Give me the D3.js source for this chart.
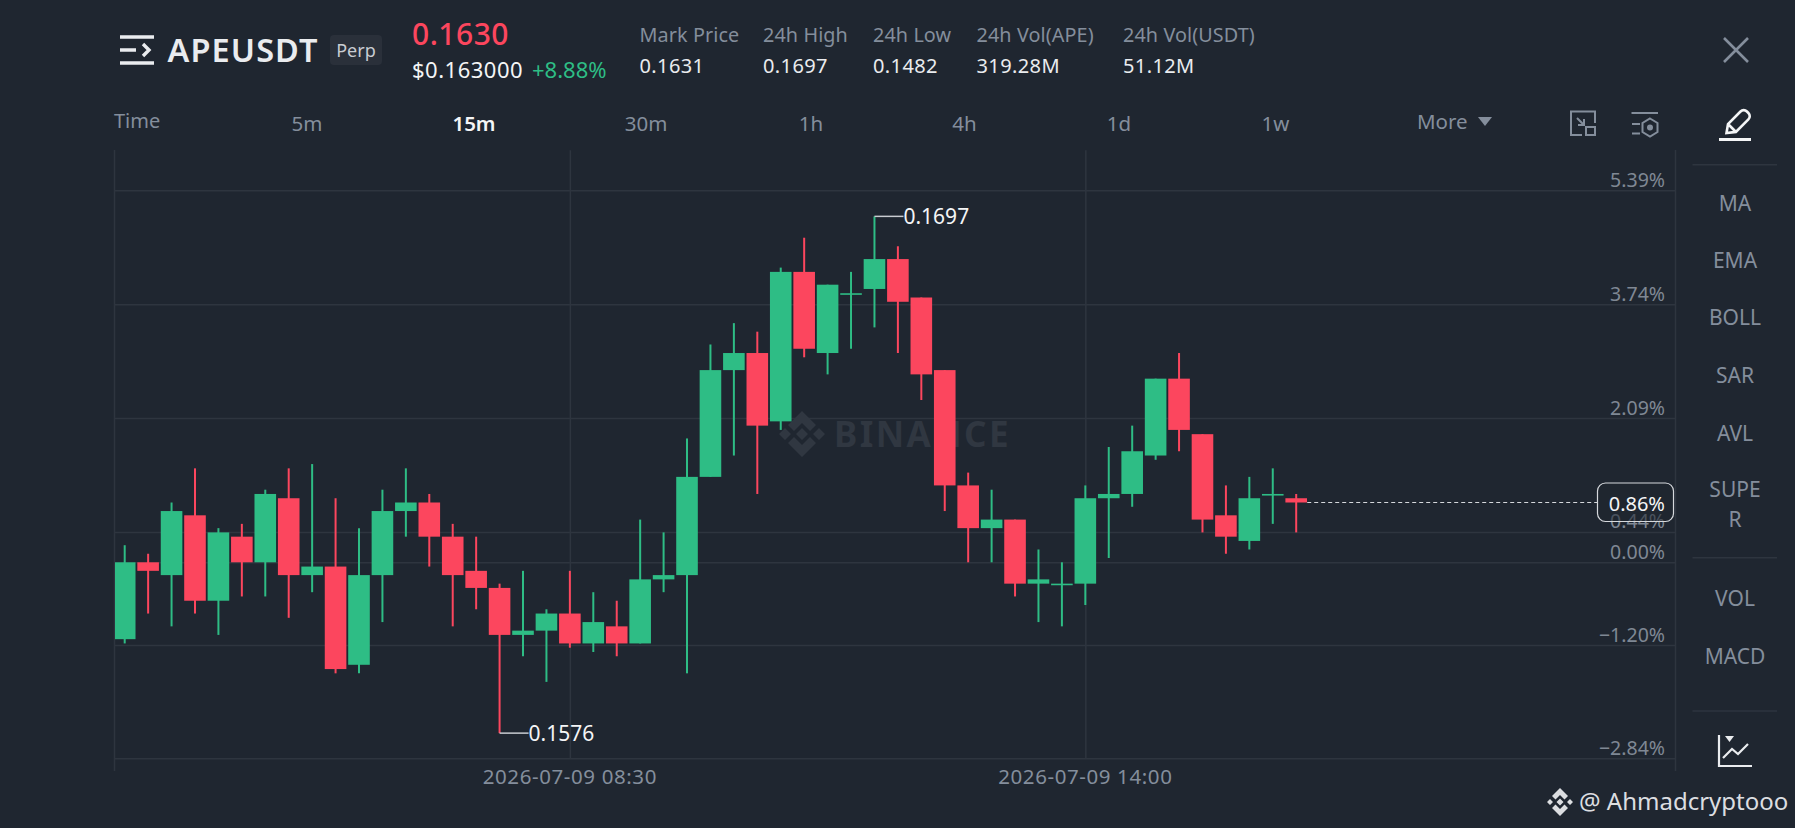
<!DOCTYPE html>
<html>

<head>
    <meta charset="utf-8">
    <style>
        html, body {
            margin: 0;
            padding: 0;
            background: #1f2630;
        }

        svg {
            display: block;
            font-family: 'Noto Sans', Arial, sans-serif;
        }

        .grid line, .grid path {
            stroke: #2e353f;
            stroke-width: 1.5;
        }

        .muted { fill: #848e9c; }
        .light { fill: #eaecef; }
    </style>
</head>

<body>
    <svg width="1795" height="828"></svg>
</body>

<script src="https://d3js.org/d3.v7.min.js"></script>

<script>
    //------------------------1. DATA------------------------//
    // 15m candles
    let opens = [.1598, .1616, .1613, .1627, .1607, .1622, .1616, .1631, .1613, .1615, .1592, .1613, .1628, .1630, .1622, .1614, .1610,
        .1599, .1600, .1604, .1597, .1601, .1597, .1612, .1613, .1636, .1661, .1665, .1649, .1684, .1665, .1679, .1680, .1687,
        .1678, .1661, .1634, .1624, .1626, .1611, .1611, .1611, .1631, .1632, .1641, .1659, .1646, .1627, .1621, .1632, .1631];
    let highs = [.1620, .1618, .1630, .1638, .1624, .1625, .1633, .1638, .1639, .1631, .1624, .1633, .1638, .1632, .1625, .1622, .1611,
        .1614, .1605, .1614, .1609, .1607, .1626, .1623, .1645, .1667, .1672, .1670, .1685, .1692, .1681, .1684, .1697, .1690,
        .1678, .1661, .1637, .1633, .1626, .1619, .1616, .1634, .1643, .1648, .1659, .1665, .1646, .1634, .1636, .1638, .1632];
    let lows = [.1597, .1604, .1601, .1604, .1599, .1608, .1608, .1603, .1609, .1590, .1590, .1602, .1622, .1615, .1601, .1605, .1576,
        .1594, .1588, .1596, .1595, .1594, .1597, .1609, .1590, .1636, .1641, .1632, .1647, .1664, .1660, .1666, .1671, .1665,
        .1654, .1628, .1616, .1616, .1608, .1602, .1601, .1606, .1617, .1629, .1640, .1642, .1623, .1618, .1619, .1625, .1623];
    let closes = [.1616, .1614, .1628, .1607, .1623, .1616, .1632, .1613, .1615, .1591, .1613, .1628, .1630, .1622, .1613, .1610, .1599,
        .1600, .1604, .1597, .1602, .1597, .1612, .1613, .1636, .1661, .1665, .1648, .1684, .1666, .1681, .1679, .1687, .1677,
        .1660, .1634, .1624, .1626, .1611, .1612, .1611, .1631, .1632, .1642, .1659, .1647, .1626, .1622, .1631, .1632, .1630];

    let basePrice = 0.1616;
    let lastPrice = 0.1630;
    let lastPct = 0.86;
    let pctTicks = [5.39, 3.74, 2.09, 0.44, 0.00, -1.20, -2.84];
    let timeTicks = [new Date(2026, 6, 9, 8, 30), new Date(2026, 6, 9, 14, 0)];
    let firstCandle = new Date(2026, 6, 9, 3, 45);
    let lastCandle = new Date(2026, 6, 9, 16, 15);

    let statLabels = ["Mark Price", "24h High", "24h Low", "24h Vol(APE)", "24h Vol(USDT)"];
    let statValues = ["0.1631", "0.1697", "0.1482", "319.28M", "51.12M"];
    let statX = [639.5, 763, 873, 976.5, 1123];
    let intervals = ["5m", "15m", "30m", "1h", "4h", "1d", "1w"];
    let intervalX = [307, 474, 646, 811, 964.5, 1119, 1275.5];
    let sideLabels = [["MA", 210.5], ["EMA", 267.5], ["BOLL", 325], ["SAR", 383], ["AVL", 441], ["SUPE", 497], ["R", 527], ["VOL", 606], ["MACD", 664]];

    //------------------------2. SCALES------------------------//
    let green = "#2ebd85";
    let red = "#fc465e";
    let svg = d3.select("svg");

    let x = d3.scaleTime().domain([firstCandle, lastCandle]).range([124.7, 1296.2]);
    let yPct = d3.scaleLinear().domain([-2.84, 5.39]).range([758.3, 190.3]);
    let y = p => yPct((p / basePrice - 1) * 100);
    let timeOf = i => d3.timeMinute.offset(firstCandle, i * 15);
    let fmtTime = d3.timeFormat("%Y-%m-%d %H:%M");

    let candles = opens.map((o, i) => ({ t: timeOf(i), o: o, h: highs[i], l: lows[i], c: closes[i] }));

    //------------------------3. GRID------------------------//
    svg.append("line").attr("x1", 114.5).attr("x2", 114.5).attr("y1", 150).attr("y2", 771).attr("stroke", "#2e353f").attr("stroke-width", 1.5);
    svg.append("line").attr("x1", 1675.5).attr("x2", 1675.5).attr("y1", 150).attr("y2", 771).attr("stroke", "#2e353f").attr("stroke-width", 1.5);

    // horizontal lines + % labels
    let yAxis = svg.append("g")
        .attr("class", "grid")
        .attr("transform", "translate(1675,0)")
        .call(d3.axisLeft(yPct).tickValues(pctTicks).tickSize(1675 - 114.5).tickFormat(d => d3.format(".2f")(d) + "%"));
    yAxis.select(".domain").remove();
    yAxis.selectAll("text")
        .attr("x", -10)
        .attr("dy", "-4")
        .attr("font-size", 19.5)
        .attr("font-family", "'Noto Sans', Arial, sans-serif")
        .attr("fill", "#7f8894")
        .attr("stroke", "none");

    // vertical lines + date labels
    let xAxis = svg.append("g")
        .attr("class", "grid")
        .attr("transform", "translate(0,758.3)")
        .call(d3.axisTop(x).tickValues(timeTicks).tickSize(608).tickFormat(""));
    xAxis.select(".domain").remove();

    svg.selectAll(".date")
        .data(timeTicks)
        .join("text")
        .attr("class", "date muted")
        .attr("x", d => x(d))
        .attr("y", 783.5)
        .attr("text-anchor", "middle")
        .attr("font-size", 20.5)
        .attr("letter-spacing", 0.6)
        .text(fmtTime);

    //------------------------4. WATERMARK------------------------//
    let wm = svg.append("g").attr("fill", "#303741");
    wm.append("path").attr("d", "M802 411l14 14-6 6-8-8-8 8-6-6zM779 434l6-6 6 6-6 6zM813 434l6-6 6 6-6 6zM802 428l6 6-6 6-6-6zM802 457l-14-14 6-6 8 8 8-8 6 6z");
    wm.append("text").attr("x", 834).attr("y", 447).attr("font-size", 35).attr("font-weight", 700).attr("letter-spacing", 2.4).text("BINANCE");

    //------------------------5. CANDLES------------------------//
    svg.append("clipPath").attr("id", "plot").append("rect").attr("x", 115).attr("y", 150).attr("width", 1560).attr("height", 620);
    let plot = svg.append("g").attr("clip-path", "url(#plot)");

    plot.selectAll(".wick")
        .data(candles)
        .join("line")
        .attr("class", "wick")
        .attr("x1", d => x(d.t))
        .attr("x2", d => x(d.t))
        .attr("y1", d => y(d.h))
        .attr("y2", d => y(d.l))
        .attr("stroke", d => d.c >= d.o ? green : red)
        .attr("stroke-width", 2);

    plot.selectAll(".body")
        .data(candles)
        .join("rect")
        .attr("class", "body")
        .attr("x", d => x(d.t) - 10.8)
        .attr("width", 21.6)
        .attr("y", d => Math.min(y(d.o), y(d.c)))
        .attr("height", d => Math.max(Math.abs(y(d.o) - y(d.c)), 1.6))
        .attr("fill", d => d.c >= d.o ? green : red);

    // last price dashed line
    svg.append("line")
        .attr("x1", x(lastCandle) + 11)
        .attr("x2", 1597)
        .attr("y1", y(lastPrice))
        .attr("y2", y(lastPrice))
        .attr("stroke", "#d5d8dc")
        .attr("stroke-width", 1.2)
        .attr("stroke-dasharray", "4 3");

    svg.append("rect")
        .attr("x", 1597.5).attr("y", 483).attr("width", 76).attr("height", 38.5).attr("rx", 8)
        .attr("fill", "#1f2630").attr("fill-opacity", 0.55).attr("stroke", "#d5d8dc").attr("stroke-width", 1.2);
    svg.append("text")
        .attr("x", 1665).attr("y", 511).attr("text-anchor", "end").attr("font-size", 20).attr("fill", "#f4f5f6")
        .text(d3.format(".2f")(lastPct) + "%");

    // high and low markers
    let hiIdx = d3.maxIndex(highs);
    let loIdx = d3.minIndex(lows);
    let marks = [
        { t: timeOf(hiIdx), p: highs[hiIdx] },
        { t: timeOf(loIdx), p: lows[loIdx] }
    ];
    svg.selectAll(".mark")
        .data(marks)
        .join("line")
        .attr("x1", d => x(d.t))
        .attr("x2", d => x(d.t) + 29)
        .attr("y1", d => y(d.p))
        .attr("y2", d => y(d.p))
        .attr("stroke", "#c9ccd1")
        .attr("stroke-width", 1.5);
    svg.selectAll(".markText")
        .data(marks)
        .join("text")
        .attr("x", d => x(d.t) + 29)
        .attr("y", d => y(d.p) + 7.5)
        .attr("font-size", 21)
        .attr("fill", "#f4f5f6")
        .text(d => d3.format(".4f")(d.p));

    //------------------------6. HEADER------------------------//
    let head = svg.append("g");
    head.append("path")
        .attr("d", "M120 37h34M120 50h16M120 63h34M143 44l6 6-6 6")
        .attr("fill", "none").attr("stroke", "#eaecef").attr("stroke-width", 3.4);
    head.append("text").attr("x", 167.5).attr("y", 62).attr("font-size", 32.5).attr("font-weight", 600).attr("letter-spacing", 1.1).attr("fill", "#eaecef").text("APEUSDT");
    head.append("rect").attr("x", 330).attr("y", 35).attr("width", 52).attr("height", 30).attr("rx", 4).attr("fill", "#2a303a");
    head.append("text").attr("x", 356).attr("y", 57).attr("text-anchor", "middle").attr("font-size", 18).attr("fill", "#c8ccd2").text("Perp");
    head.append("text").attr("x", 412).attr("y", 45).attr("font-size", 30).attr("font-weight", 500).attr("letter-spacing", 0.5).attr("fill", red).text("0.1630");
    head.append("text").attr("x", 412).attr("y", 78).attr("font-size", 22).attr("letter-spacing", 0.5).attr("fill", "#f4f5f6").text("$0.163000");
    head.append("text").attr("x", 532).attr("y", 78).attr("font-size", 22).attr("fill", green).text("+8.88%");

    head.selectAll(".statLabel").data(statLabels).join("text")
        .attr("class", "statLabel muted")
        .attr("x", (d, i) => statX[i]).attr("y", 42).attr("font-size", 19.8).attr("letter-spacing", 0.1).text(d => d);
    head.selectAll(".statValue").data(statValues).join("text")
        .attr("class", "statValue light")
        .attr("x", (d, i) => statX[i]).attr("y", 73).attr("font-size", 20).attr("letter-spacing", 0.4).text(d => d);

    head.append("path").attr("d", "M1724 38l24 24M1748 38l-24 24").attr("stroke", "#848e9c").attr("stroke-width", 2.6).attr("fill", "none");

    // interval tabs
    head.append("text").attr("class", "muted").attr("x", 114).attr("y", 128).attr("font-size", 20).text("Time");
    head.selectAll(".tab").data(intervals).join("text")
        .attr("class", "tab")
        .attr("x", (d, i) => intervalX[i]).attr("y", 131)
        .attr("text-anchor", "middle")
        .attr("font-size", 20.5)
        .attr("font-weight", d => d == "15m" ? 600 : 400)
        .attr("fill", d => d == "15m" ? "#f4f5f6" : "#848e9c")
        .text(d => d);
    head.append("text").attr("class", "muted").attr("x", 1417).attr("y", 129).attr("font-size", 20.5).text("More");
    head.append("path").attr("d", "M1478 117h14l-7 9z").attr("fill", "#848e9c");

    let iconG = head.append("g").attr("fill", "none").attr("stroke", "#848e9c").attr("stroke-width", 2);
    iconG.append("path").attr("d", "M1582 135h-11v-23.500h24v11.500M1577 118l7 7M1584 119v6h-6");
    iconG.append("rect").attr("x", 1586).attr("y", 127).attr("width", 9).attr("height", 8);
    iconG.append("path").attr("d", "M1631.500 113h26.500M1632 124h8M1632 133.500h8M1650 118.500l7.500 4.500v9l-7.500 4.500-7.500-4.500v-9z");
    iconG.append("circle").attr("cx", 1650).attr("cy", 127.5).attr("r", 2).attr("fill", "#848e9c");

    head.append("path")
        .attr("d", "M1726.5 133l1.500-9 12.500-12.500a4.500 4.500 0 0 1 6.400 0l1.500 1.500a4.500 4.500 0 0 1 0 6.400l-12.500 12.500zM1728 124l8 8")
        .attr("fill", "none").attr("stroke", "#f4f5f6").attr("stroke-width", 2.6);
    head.append("path").attr("d", "M1719 139.500h32").attr("stroke", "#f4f5f6").attr("stroke-width", 3);

    //------------------------7. RIGHT PANEL------------------------//
    let side = svg.append("g");
    side.selectAll("text").data(sideLabels).join("text")
        .attr("x", 1735).attr("y", d => d[1])
        .attr("text-anchor", "middle").attr("font-size", 21).attr("fill", "#848e9c")
        .text(d => d[0]);
    side.selectAll("line").data([164.7, 557.7, 711]).join("line")
        .attr("x1", 1692.5).attr("x2", 1777).attr("y1", d => d).attr("y2", d => d)
        .attr("stroke", "#2e353f").attr("stroke-width", 1.5);

    side.append("path")
        .attr("d", "M1719 735v31h33M1723 758l9-9 6 5 10-10")
        .attr("fill", "none").attr("stroke", "#eaecef").attr("stroke-width", 2.2);
    side.append("path").attr("d", "M1725 736h9l-4.5 6z").attr("fill", "#eaecef");

    //------------------------8. SIGNATURE------------------------//
    let sig = svg.append("g").attr("fill", "#dcdee1");
    sig.append("path").attr("d", "M1560 788l8 8-3.500 3.500-4.500-4.500-4.500 4.500-3.500-3.500zM1547 802l3-3 3 3-3 3zM1567 802l3-3 3 3-3 3zM1560 798.500l3.500 3.500-3.500 3.500-3.500-3.500zM1560 816l-8-8 3.500-3.500 4.500 4.500 4.500-4.500 3.500 3.500z");
    sig.append("text").attr("x", 1579).attr("y", 810).attr("font-size", 24).attr("font-family", "'Noto Sans', sans-serif").text("@ Ahmadcryptooo");
</script>
</html>
